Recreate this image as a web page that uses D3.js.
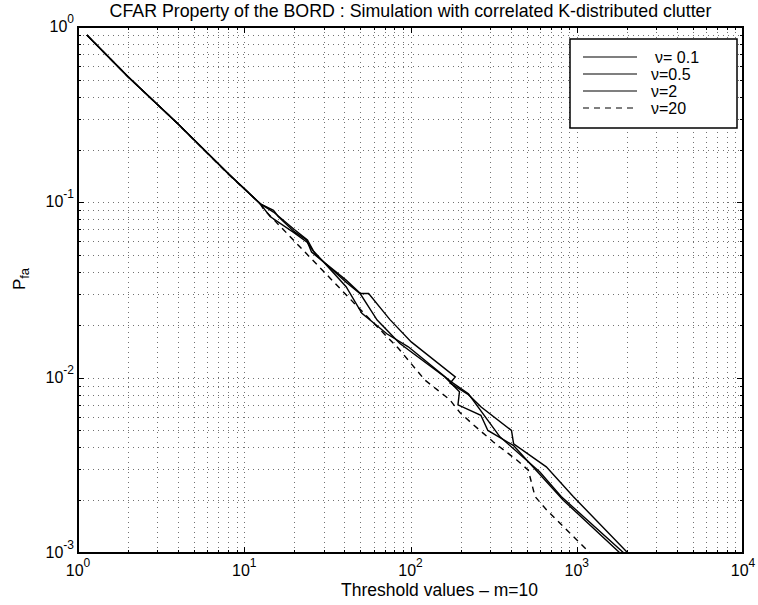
<!DOCTYPE html>
<html>
<head>
<meta charset="utf-8">
<script src="https://cdn.jsdelivr.net/npm/d3@7"></script>
<style>
  body { margin: 0; background: #fff; }
  svg { font-family: "Liberation Sans", Arial, sans-serif; }
</style>
</head>
<body>
<svg width="758" height="605"></svg>
<script>
// Data: [threshold, Pfa]
const seriesNames = ['\u03bd= 0.1', '\u03bd=0.5', '\u03bd=2', '\u03bd=20'];

const head = [[1.13, 0.9], [2, 0.52], [4, 0.28], [8, 0.146], [12.5, 0.098]];

const nu01 = head.concat([
  [15, 0.09], [16, 0.083], [20, 0.068], [23.7, 0.061], [25.4, 0.052],
  [41, 0.036], [50, 0.0302], [56, 0.0302], [75, 0.0215], [101, 0.016],
  [186, 0.0101], [173, 0.0093], [223, 0.008], [266, 0.0068], [405, 0.005],
  [417, 0.0042], [656, 0.0031], [952, 0.0021], [2030, 0.001]
]);

const nu05 = head.concat([
  [14.3, 0.083], [20, 0.067], [24, 0.059], [27, 0.05], [41, 0.035],
  [50, 0.03], [63, 0.0213], [86, 0.0157], [161, 0.0101], [197, 0.0083],
  [193, 0.007], [265, 0.0061], [292, 0.005], [417, 0.0041], [830, 0.002],
  [1820, 0.001]
]);

const nu2 = head.concat([
  [15, 0.088], [20, 0.07], [24, 0.061], [26, 0.053], [41, 0.033],
  [51, 0.0233], [72, 0.0178], [97, 0.015], [175, 0.0095], [223, 0.0081],
  [345, 0.0046], [600, 0.0029], [806, 0.0021], [1920, 0.001]
]);

const nu20 = [
  [1.13, 0.9], [2, 0.52], [4, 0.28], [8, 0.145], [12.4, 0.099], [13, 0.092],
  [46, 0.0265], [84.5, 0.0147], [122, 0.0097], [172, 0.0075], [199, 0.0063],
  [233, 0.0055], [315, 0.0043], [434, 0.0034], [511, 0.00297], [561, 0.0021],
  [659, 0.00176], [1202, 0.001]
];

const xDecades = [0, 1, 2, 3, 4];
const yDecades = [-3, -2, -1, 0];

const svg = d3.select('svg');
const pl = 78, pr = 743, pt = 27, pb = 553;

const x = d3.scaleLog().domain([1, 1e4]).range([pl, pr]);
const y = d3.scaleLog().domain([1e-3, 1]).range([pb, pt]);

// minor + major positions
const xMinor = [];
for (let d = 0; d < 4; d++) for (let k = 2; k <= 9; k++) xMinor.push(k * Math.pow(10, d));
const yMinor = [];
for (let d = -3; d < 0; d++) for (let k = 2; k <= 9; k++) yMinor.push(k * Math.pow(10, d));
const xMajor = xDecades.map(e => Math.pow(10, e));
const yMajor = yDecades.map(e => Math.pow(10, e));

// Grid (dotted)
const grid = svg.append('g')
  .attr('stroke', '#000')
  .attr('stroke-width', 1)
  .attr('stroke-dasharray', '1,4')
  .attr('opacity', 0.55);

grid.selectAll('.gx')
  .data(xMinor.concat(xMajor.slice(1, -1)))
  .enter()
  .append('line')
  .attr('x1', d => Math.round(x(d)) + 0.5)
  .attr('x2', d => Math.round(x(d)) + 0.5)
  .attr('y1', pt)
  .attr('y2', pb);

grid.selectAll('.gy')
  .data(yMinor.concat(yMajor.slice(1, -1)))
  .enter()
  .append('line')
  .attr('y1', d => Math.round(y(d)) + 0.5)
  .attr('y2', d => Math.round(y(d)) + 0.5)
  .attr('x1', pl)
  .attr('x2', pr);

// Ticks, inward on all four sides
const ticks = svg.append('g').attr('stroke', '#000').attr('stroke-width', 1);
const xt = xMinor.map(v => ({ v, len: 3 })).concat(xMajor.slice(1, -1).map(v => ({ v, len: 6 })));
const yt = yMinor.map(v => ({ v, len: 3 })).concat(yMajor.slice(1, -1).map(v => ({ v, len: 6 })));

xt.forEach(t => {
  const px = Math.round(x(t.v)) + 0.5;
  ticks.append('line').attr('x1', px).attr('x2', px).attr('y1', pb).attr('y2', pb - t.len);
  ticks.append('line').attr('x1', px).attr('x2', px).attr('y1', pt).attr('y2', pt + t.len);
});
yt.forEach(t => {
  const py = Math.round(y(t.v)) + 0.5;
  ticks.append('line').attr('y1', py).attr('y2', py).attr('x1', pl).attr('x2', pl + t.len);
  ticks.append('line').attr('y1', py).attr('y2', py).attr('x1', pr).attr('x2', pr - t.len);
});

// Curves
svg.append('clipPath').attr('id', 'clip')
  .append('rect').attr('x', pl).attr('y', pt).attr('width', pr - pl).attr('height', pb - pt);

const line = d3.line().x(d => x(d[0])).y(d => y(d[1]));
const curves = [
  { data: nu01, dash: null },
  { data: nu05, dash: null },
  { data: nu2, dash: null },
  { data: nu20, dash: '6,5' }
];

svg.append('g')
  .attr('clip-path', 'url(#clip)')
  .selectAll('path')
  .data(curves)
  .enter()
  .append('path')
  .attr('d', d => line(d.data))
  .attr('fill', 'none')
  .attr('stroke', '#000')
  .attr('stroke-width', 1.4)
  .attr('stroke-dasharray', d => d.dash);

// Axis box
svg.append('rect')
  .attr('x', pl).attr('y', pt)
  .attr('width', pr - pl).attr('height', pb - pt)
  .attr('fill', 'none').attr('stroke', '#000').attr('stroke-width', 2);

// Tick labels
const xl = svg.append('g').attr('font-size', 16).attr('fill', '#000');
xDecades.forEach(e => {
  const t = xl.append('text')
    .attr('x', x(Math.pow(10, e)))
    .attr('y', 576)
    .attr('text-anchor', 'middle');
  t.append('tspan').text('10');
  t.append('tspan').attr('dy', -9).attr('font-size', 12).text(e);
});

const yl = svg.append('g').attr('font-size', 16).attr('fill', '#000');
yDecades.forEach(e => {
  const t = yl.append('text')
    .attr('x', 74)
    .attr('y', y(Math.pow(10, e)) + 5)
    .attr('text-anchor', 'end');
  t.append('tspan').text('10');
  t.append('tspan').attr('dy', -9).attr('font-size', 12).text(e);
});

// Title and axis labels
svg.append('text')
  .attr('x', (pl + pr) / 2)
  .attr('y', 17)
  .attr('text-anchor', 'middle')
  .attr('font-size', 17.8)
  .text('CFAR Property of the BORD : Simulation with correlated K-distributed clutter');

svg.append('text')
  .attr('x', (pl + pr) / 2 + 29)
  .attr('y', 596)
  .attr('text-anchor', 'middle')
  .attr('font-size', 17.5)
  .text('Threshold values \u2013 m=10');

const ylab = svg.append('text')
  .attr('transform', 'translate(25,279) rotate(-90)')
  .attr('text-anchor', 'middle')
  .attr('font-size', 17);
ylab.append('tspan').text('P');
ylab.append('tspan').attr('dy', 4).attr('font-size', 13).text('fa');

// Legend
const lg = svg.append('g');
lg.append('rect')
  .attr('x', 570).attr('y', 39).attr('width', 167).attr('height', 89)
  .attr('fill', '#fff').attr('stroke', '#000').attr('stroke-width', 1.5);

const rowY = [57, 74, 91, 108];
seriesNames.forEach((name, i) => {
  lg.append('line')
    .attr('x1', 583).attr('x2', 637)
    .attr('y1', rowY[i]).attr('y2', rowY[i])
    .attr('stroke', '#000').attr('stroke-width', 1.2)
    .attr('stroke-dasharray', curves[i].dash);
  lg.append('text')
    .attr('x', i === 0 ? 655 : 651)
    .attr('y', rowY[i] + 6)
    .attr('font-size', 16)
    .text(name);
});
</script>
</body>
</html>
